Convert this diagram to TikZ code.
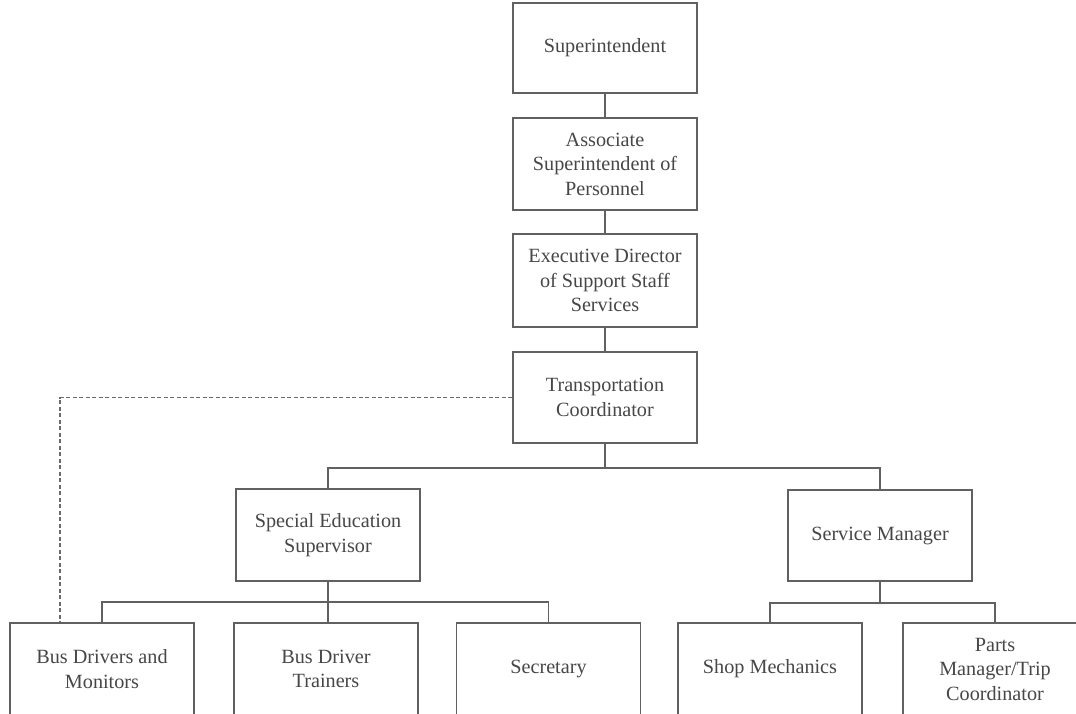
\documentclass[tikz,border=0pt]{standalone}
\usepackage{fontspec}
\setmainfont{Liberation Serif}
\begin{document}
\begin{tikzpicture}[x=1pt,y=-1pt,
  ink/.style={draw=black!62,line width=1.6pt},
  post/.style={ink,fill=white,rectangle,minimum width=184pt,minimum height=92pt,
    inner sep=0pt,align=center,text=black!72,
    font=\fontsize{20.2}{24.5}\selectfont},
  dotlink/.style={draw=black!58,line width=1.8pt,dash pattern=on 4pt off 2.5pt}]
  % page
  \fill[white] (0,0) rectangle (1076,713);
  \useasboundingbox (0,0) rectangle (1076,713);

  % chain of command
  \node[post,minimum height=90pt] (sup)   at (605,48)    {Superintendent};
  \node[post]                     (assoc) at (605,164)   {Associate\\Superintendent of\\Personnel};
  \node[post,minimum height=93pt] (exec)  at (605,280.5) {Executive Director\\of Support Staff\\Services};
  \node[post,minimum height=91pt] (trans) at (605,397.5) {Transportation\\Coordinator};

  % supervisors
  \node[post] (sped) at (328,535)   {Special Education\\Supervisor};
  \node[post,minimum height=91pt] (svc) at (880,535.5) {Service Manager};

  % staff
  \node[post] (bdm)   at (102,669)   {Bus Drivers and\\Monitors};
  \node[post] (bdt)   at (326,669)   {Bus Driver\\Trainers};
  \node[post] (sec)   at (548.5,669) {Secretary};
  \node[post] (shop)  at (770,669)   {Shop Mechanics};
  \node[post] (parts) at (995,669)   {Parts\\Manager/Trip\\Coordinator};

  % junction points of the branch lines
  \coordinate (j1) at (605,468);
  \coordinate (j2) at (328,602);
  \coordinate (j3) at (880,603);

  % connectors
  \draw[ink] (sup.south) -- (assoc.north);
  \draw[ink] (assoc.south) -- (exec.north);
  \draw[ink] (exec.south) -- (trans.north);
  \draw[ink] (trans.south) -- (j1);
  \draw[ink] (sped.north) |- (j1) -| (svc.north);

  \draw[ink] (sped.south) -- (sped.south |- bdt.north);
  \draw[ink] (bdm.north) |- (j2) -| (sec.north);

  \draw[ink] (svc.south) -- (j3);
  \draw[ink] (shop.north) |- (j3) -| (parts.north);

  % dotted reporting line
  \draw[dotlink] (trans.west) -| ([xshift=-42pt]bdm.north);
\end{tikzpicture}
\end{document}
